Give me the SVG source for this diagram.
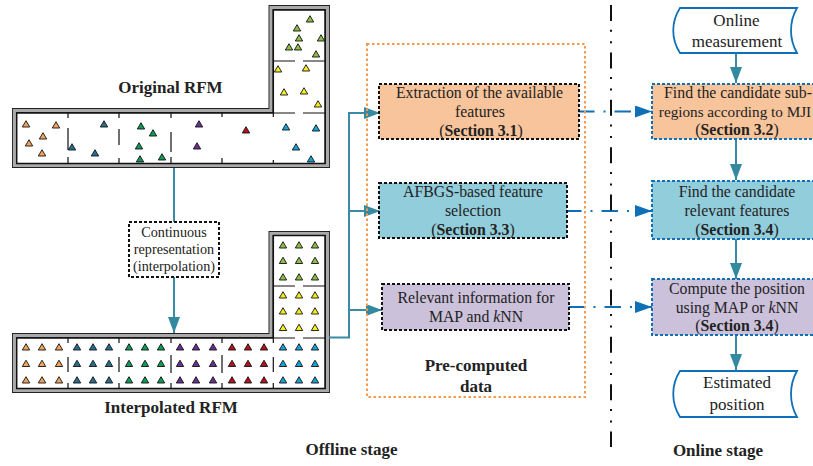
<svg xmlns="http://www.w3.org/2000/svg" width="813" height="466" viewBox="0 0 813 466">
<style>
text{font-family:"Liberation Serif","Times New Roman",serif;fill:#222;text-anchor:middle;font-size:15.8px}
.b{font-weight:bold}
.h{font-size:17px}
.s14{font-size:14.2px}
.wo{fill:none;stroke:#222;stroke-width:5;stroke-linejoin:miter}
.wi{fill:none;stroke:#aaa;stroke-width:3.2;stroke-linejoin:miter}
.fl{fill:#fff;stroke:#111;stroke-width:1.5}
.w{stroke:#111;stroke-width:1.2;fill:none}
.t{stroke:#111;stroke-width:.9}
.c{fill:none;stroke:#3a8ca6;stroke-width:2}
.d{fill:none;stroke:#0f70b7;stroke-width:1.8;stroke-dasharray:16.500 9 2 9}
.nb{stroke:#111;stroke-width:2;stroke-dasharray:3 2}
.bb{stroke:#0f70b7;stroke-width:2;stroke-dasharray:3 2}
.doc{fill:#fff;stroke:#0f70b7;stroke-width:1.8}
.o{fill:#f4a35c}.s{fill:#26708f}.g{fill:#0f9a5a}.p{fill:#6a2f96}.r{fill:#b5101d}.l{fill:#14a3dc}.y{fill:#f7ee1b}.e{fill:#8dbf45}
</style>
<defs>
<path id="tr" class="t" d="M0-3.300 3.700 3H-3.700Z"/>
<marker id="ta" markerUnits="userSpaceOnUse" markerWidth="17" markerHeight="12" refX="16" refY="6" orient="auto"><path d="M0 0 16 6 0 12Z" fill="#338aa0"/></marker>
<marker id="ba" markerUnits="userSpaceOnUse" markerWidth="17" markerHeight="12" refX="17" refY="6" orient="auto"><path d="M0 0 17 6 0 12Z" fill="#0f70b7"/></marker>
</defs>

<g id="original-rfm">
<path class="wo" d="M14.500 110.500H271V7.500H327.500V165.500H14.500Z"/>
<path class="wi" d="M14.500 110.500H271V7.500H327.500V165.500H14.500Z"/>
<path class="fl" d="M16.700 113H273.300V10H325V163.500H16.700Z"/>
<path class="w" d="M68 113v5M68 128v22M68 157v6.500M119 113v5M119 129v16M119 158v5.500M171 113v5M171 132v20M171 157v6.500M222 113v4M222 158v5.500M273.300 113v4M273.300 160v3.500M273.300 61H295M303 61H325M273.300 113H295M303 113H325"/>
<g class="o"><use href="#tr" x="26" y="124"/><use href="#tr" x="56" y="125"/><use href="#tr" x="43" y="136"/><use href="#tr" x="29" y="143"/><use href="#tr" x="42" y="153"/></g>
<g class="s"><use href="#tr" x="104" y="124"/><use href="#tr" x="72" y="147"/><use href="#tr" x="95" y="153"/></g>
<g class="g"><use href="#tr" x="141" y="126"/><use href="#tr" x="153" y="133"/><use href="#tr" x="139" y="146"/><use href="#tr" x="140" y="159"/><use href="#tr" x="162" y="157"/></g>
<g class="p"><use href="#tr" x="199" y="124"/><use href="#tr" x="197" y="146"/></g>
<g class="r"><use href="#tr" x="246" y="130"/></g>
<g class="l"><use href="#tr" x="286" y="127"/><use href="#tr" x="316" y="128"/><use href="#tr" x="296" y="147"/><use href="#tr" x="311" y="159"/></g>
<g class="y"><use href="#tr" x="278" y="69"/><use href="#tr" x="306" y="68"/><use href="#tr" x="284" y="92"/><use href="#tr" x="304" y="91"/><use href="#tr" x="318" y="104"/></g>
<g class="e"><use href="#tr" x="310" y="19"/><use href="#tr" x="297" y="28"/><use href="#tr" x="299" y="38"/><use href="#tr" x="321" y="38"/><use href="#tr" x="289" y="47"/><use href="#tr" x="298" y="47"/><use href="#tr" x="316" y="54"/></g>
</g>
<text class="b h" x="170.500" y="93">Original RFM</text>

<g id="interpolated-rfm">
<path class="wo" d="M14.500 335.500H271V233.500H327.500V390.500H14.500Z"/>
<path class="wi" d="M14.500 335.500H271V233.500H327.500V390.500H14.500Z"/>
<path class="fl" d="M16.700 338H273.300V235.500H325V388.500H16.700Z"/>
<path class="w" d="M68 338v5M68 357v15M68 383v5.500M119 338v5M119 357v15M119 383v5.500M171 338v5M171 355v18M171 383v5.500M222 338v5M222 355v18M222 383v5.500M273.300 338v5M273.300 357v15M273.300 383v5.500M273.300 286H295M303 286H325M273.300 338H295M303 338H325"/>
<g class="o"><use href="#tr" x="26" y="347"/><use href="#tr" x="42" y="347"/><use href="#tr" x="59" y="347"/><use href="#tr" x="26" y="363.500"/><use href="#tr" x="42" y="363.500"/><use href="#tr" x="59" y="363.500"/><use href="#tr" x="26" y="380"/><use href="#tr" x="42" y="380"/><use href="#tr" x="59" y="380"/></g>
<g class="s"><use href="#tr" x="77" y="347"/><use href="#tr" x="93" y="347"/><use href="#tr" x="109" y="347"/><use href="#tr" x="77" y="363.500"/><use href="#tr" x="93" y="363.500"/><use href="#tr" x="109" y="363.500"/><use href="#tr" x="77" y="380"/><use href="#tr" x="93" y="380"/><use href="#tr" x="109" y="380"/></g>
<g class="g"><use href="#tr" x="129" y="347"/><use href="#tr" x="145" y="347"/><use href="#tr" x="161" y="347"/><use href="#tr" x="129" y="363.500"/><use href="#tr" x="145" y="363.500"/><use href="#tr" x="161" y="363.500"/><use href="#tr" x="129" y="380"/><use href="#tr" x="145" y="380"/><use href="#tr" x="161" y="380"/></g>
<g class="p"><use href="#tr" x="180" y="347"/><use href="#tr" x="196" y="347"/><use href="#tr" x="213" y="347"/><use href="#tr" x="180" y="363.500"/><use href="#tr" x="196" y="363.500"/><use href="#tr" x="213" y="363.500"/><use href="#tr" x="180" y="380"/><use href="#tr" x="196" y="380"/><use href="#tr" x="213" y="380"/></g>
<g class="r"><use href="#tr" x="232" y="347"/><use href="#tr" x="248" y="347"/><use href="#tr" x="264" y="347"/><use href="#tr" x="232" y="363.500"/><use href="#tr" x="248" y="363.500"/><use href="#tr" x="264" y="363.500"/><use href="#tr" x="232" y="380"/><use href="#tr" x="248" y="380"/><use href="#tr" x="264" y="380"/></g>
<g class="l"><use href="#tr" x="283" y="347"/><use href="#tr" x="299" y="347"/><use href="#tr" x="315" y="347"/><use href="#tr" x="283" y="363.500"/><use href="#tr" x="299" y="363.500"/><use href="#tr" x="315" y="363.500"/><use href="#tr" x="283" y="380"/><use href="#tr" x="299" y="380"/><use href="#tr" x="315" y="380"/></g>
<g class="y"><use href="#tr" x="283" y="295"/><use href="#tr" x="299" y="295"/><use href="#tr" x="315" y="295"/><use href="#tr" x="283" y="311"/><use href="#tr" x="299" y="311"/><use href="#tr" x="315" y="311"/><use href="#tr" x="283" y="327.500"/><use href="#tr" x="299" y="327.500"/><use href="#tr" x="315" y="327.500"/></g>
<g class="e"><use href="#tr" x="283" y="245"/><use href="#tr" x="299" y="245"/><use href="#tr" x="315" y="245"/><use href="#tr" x="283" y="260.500"/><use href="#tr" x="299" y="260.500"/><use href="#tr" x="315" y="260.500"/><use href="#tr" x="283" y="277"/><use href="#tr" x="299" y="277"/><use href="#tr" x="315" y="277"/></g>
</g>
<text class="b h" x="171" y="413">Interpolated RFM</text>

<g id="connectors">
<path class="c" d="M174 168V222"/>
<path class="c" d="M174 277V333" marker-end="url(#ta)"/>
<path class="c" d="M329 337.500H349V113H380" marker-end="url(#ta)"/>
<path class="c" d="M349 211H380" marker-end="url(#ta)"/>
<path class="c" d="M349 310H382" marker-end="url(#ta)"/>
<path class="c" d="M736 53V83" marker-end="url(#ta)"/>
<path class="c" d="M736 139V180" marker-end="url(#ta)"/>
<path class="c" d="M736 239V279" marker-end="url(#ta)"/>
<path class="c" d="M736 335V370" marker-end="url(#ta)"/>
<path class="d" d="M578 111.500H652" marker-end="url(#ba)"/>
<path class="d" d="M565 211H652" marker-end="url(#ba)"/>
<path class="d" d="M568 307H652" marker-end="url(#ba)"/>
</g>

<g id="interp"><rect x="129" y="222" width="90" height="55" fill="#fff" class="nb"/><text class="s14" x="174" y="237">Continuous</text><text class="s14" x="174" y="254">representation</text><text class="s14" x="174" y="271">(interpolation)</text></g>

<g id="precomputed"><rect x="367" y="44" width="218" height="353" fill="none" stroke="#f79a4e" stroke-width="2" stroke-dasharray="2.500 2.500"/><text class="b h" x="476" y="371">Pre-computed</text><text class="b h" x="476" y="392">data</text></g>

<g id="n1"><rect x="379" y="84" width="200" height="55" fill="#f8c49b" class="nb"/><text x="479.500" y="98">Extraction of the available</text><text x="480" y="117">features</text><text x="481" y="136">(<tspan class="b">Section 3.1</tspan>)</text></g>
<g id="n2"><rect x="379" y="183" width="188" height="55" fill="#92cddc" class="nb"/><text x="473" y="197">AFBGS-based feature</text><text x="473" y="216">selection</text><text x="473" y="235">(<tspan class="b">Section 3.3</tspan>)</text></g>
<g id="n3"><rect x="382" y="284" width="187" height="46" fill="#ccc1da" class="nb"/><text x="476" y="303">Relevant information for</text><text x="476" y="322">MAP and <tspan font-style="italic">k</tspan>NN</text></g>

<g id="n4"><rect x="652" y="84" width="170" height="55" fill="#f8c49b" class="bb"/><text x="738" y="98">Find the candidate sub-</text><text x="735" y="117" style="font-size:15.2px">regions according to MJI</text><text x="737" y="135">(<tspan class="b">Section 3.2</tspan>)</text></g>
<g id="n5"><rect x="652" y="181" width="170" height="58" fill="#92cddc" class="bb"/><text x="737" y="197">Find the candidate</text><text x="737" y="216">relevant features</text><text x="737" y="235">(<tspan class="b">Section 3.4</tspan>)</text></g>
<g id="n6"><rect x="652" y="279" width="170" height="56" fill="#ccc1da" class="bb"/><text x="737" y="294">Compute the position</text><text x="737" y="313">using MAP or <tspan font-style="italic">k</tspan>NN</text><text x="737" y="331">(<tspan class="b">Section 3.4</tspan>)</text></g>

<g id="online-measurement"><path class="doc" d="M680 8H797C789 22 789 39 797 53H680C671 39 671 22 680 8Z"/><text class="h" x="736.500" y="26">Online</text><text class="h" x="737" y="47">measurement</text></g>
<g id="estimated-position"><path class="doc" d="M680 371H797C789 385 789 403 797 417H680C671 403 671 385 680 371Z"/><text class="h" x="737" y="388">Estimated</text><text class="h" x="737" y="410">position</text></g>

<path id="divider" d="M611 5V447" fill="none" stroke="#111" stroke-width="2" stroke-dasharray="16 8.700 2 9.500 2 9.200"/>
<text class="b h" x="351.500" y="455">Offline stage</text>
<text class="b h" x="718" y="456">Online stage</text>
</svg>
